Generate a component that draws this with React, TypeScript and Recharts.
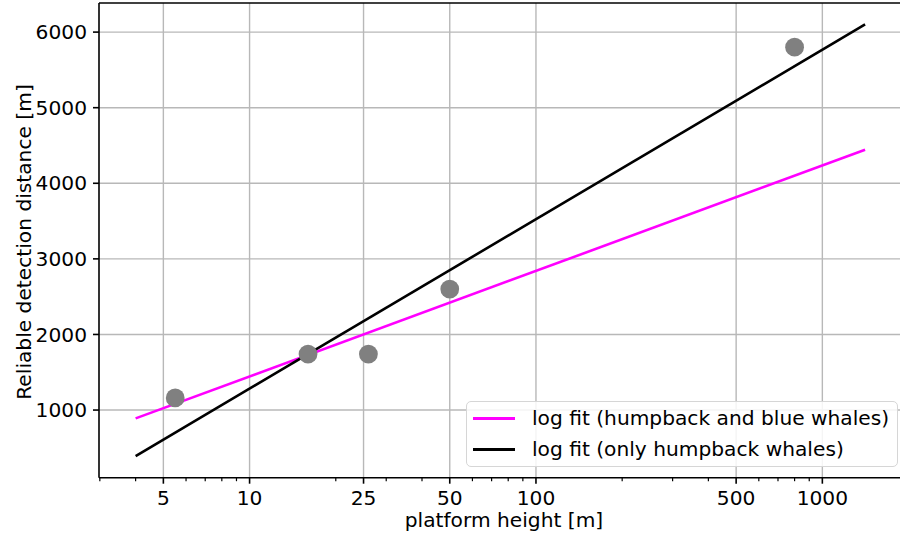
import React from 'react';
import {
  ComposedChart,
  Line,
  Scatter,
  XAxis,
  YAxis,
  CartesianGrid,
  Legend,
  ReferenceLine,
} from 'recharts';

// observed detections
const obsHeight = [5.5, 16, 26, 50, 800];
const obsDistance = [1160, 1740, 1740, 2600, 5800];

// log-fit lines (endpoints of straight lines on a log x axis)
const fitHeights = [4, 1410];
const fitAllWhales = [890, 4444];
const fitHumpbackOnly = [391, 6102];

// axis ticks
const xMajorTicks = [5, 10, 25, 50, 100, 500, 1000];
const xMinorTicks = [3, 4, 6, 7, 8, 9, 20, 30, 40, 60, 70, 80, 90, 200, 300, 400, 600, 700, 800, 900];
const yTicks = [1000, 2000, 3000, 4000, 5000, 6000];

const seriesNames = ['log fit (humpback and blue whales)', 'log fit (only humpback whales)'];
const seriesColors = ['#ff00ff', '#000000'];

const xLabel = 'platform height [m]';
const yLabel = 'Reliable detection distance [m]';

const X_DOMAIN: [number, number] = [2.98, 1867];
const Y_DOMAIN: [number, number] = [105, 6385];

const FONT = '"DejaVu Sans", sans-serif';
const FS = 20.2;

const scatterData = obsHeight.map((h, i) => ({ h, d: obsDistance[i] }));
const allWhalesData = fitHeights.map((h, i) => ({ h, d: fitAllWhales[i] }));
const humpbackData = fitHeights.map((h, i) => ({ h, d: fitHumpbackOnly[i] }));

const XTick = (props: any) => {
  const { x, y, payload } = props;
  const v = payload.value;
  const major = xMajorTicks.includes(v);
  return (
    <g>
      <line
        x1={x}
        x2={x}
        y1={y}
        y2={y + (major ? 6 : 3.5)}
        stroke="#000"
        strokeWidth={major ? 1.6 : 1.2}
      />
      {major && (
        <text x={x} y={y + 27.5} textAnchor="middle" fontSize={FS} fontFamily={FONT} fill="#000">
          {String(v)}
        </text>
      )}
    </g>
  );
};

const Dot = (props: any) => {
  const { cx, cy } = props;
  return <circle cx={cx} cy={cy} r={9.4} fill="#808080" />;
};

const LegendBox = () => (
  <div
    style={{
      position: 'relative',
      width: 432,
      height: 66,
      boxSizing: 'border-box',
      border: '1.5px solid #d6d6d6',
      borderRadius: 5,
      background: 'rgba(255,255,255,0.85)',
      fontFamily: FONT,
      fontSize: FS,
      color: '#000',
    }}
  >
    {seriesNames.map((name, i) => (
      <div key={name} style={{ position: 'absolute', left: 0, top: i === 0 ? 3 : 33.6, height: 27, width: '100%' }}>
        <div
          style={{
            position: 'absolute',
            left: 6,
            top: 12,
            width: 42,
            height: 3,
            background: seriesColors[i],
          }}
        />
        <span style={{ position: 'absolute', left: 65, top: 0, lineHeight: '27px', whiteSpace: 'nowrap' }}>{name}</span>
      </div>
    ))}
  </div>
);

export default function App() {
  return (
    <div style={{ position: 'absolute', left: 0, top: 0, width: 900, height: 535, overflow: 'hidden', background: '#fff' }}>
      <ComposedChart width={900} height={535} margin={{ top: 3, right: 0, bottom: 0, left: 0 }}>
        <CartesianGrid
          stroke="#b8b8b8"
          strokeWidth={1.4}
          x={99}
          width={830}
          verticalValues={xMajorTicks}
          horizontalValues={yTicks}
        />
        <XAxis
          dataKey="h"
          type="number"
          scale="log"
          domain={X_DOMAIN}
          allowDataOverflow
          ticks={[...xMajorTicks, ...xMinorTicks]}
          interval={0}
          tickLine={false}
          tickSize={0}
          tickMargin={0}
          height={57.3}
          axisLine={{ stroke: '#000', strokeWidth: 1.6 }}
          tick={<XTick />}
          label={() => (
            <text x={504} y={527} textAnchor="middle" fontSize={FS} fontFamily={FONT} fill="#000">
              {xLabel}
            </text>
          )}
        />
        <YAxis
          dataKey="d"
          type="number"
          domain={Y_DOMAIN}
          allowDataOverflow
          ticks={yTicks}
          interval={0}
          width={99}
          tickSize={6}
          tickMargin={6}
          tickLine={{ stroke: '#000', strokeWidth: 1.6 }}
          axisLine={{ stroke: '#000', strokeWidth: 1.6 }}
          tick={{ fill: '#000', fontSize: FS, fontFamily: FONT }}
          label={() => (
            <text
              x={31}
              y={242}
              transform="rotate(-90, 31, 242)"
              textAnchor="middle"
              fontSize={FS}
              fontFamily={FONT}
              fill="#000"
            >
              {yLabel}
            </text>
          )}
        />
        <ReferenceLine y={Y_DOMAIN[1]} stroke="#000" strokeWidth={1.6} ifOverflow="visible" />
        <Scatter data={scatterData} dataKey="d" shape={<Dot />} isAnimationActive={false} legendType="none" />
        <Line
          data={allWhalesData}
          dataKey="d"
          stroke={seriesColors[0]}
          strokeWidth={2.6}
          dot={false}
          activeDot={false}
          isAnimationActive={false}
          name={seriesNames[0]}
        />
        <Line
          data={humpbackData}
          dataKey="d"
          stroke={seriesColors[1]}
          strokeWidth={2.6}
          dot={false}
          activeDot={false}
          isAnimationActive={false}
          name={seriesNames[1]}
        />
        <Legend
          layout="horizontal"
          verticalAlign="middle"
          align="center"
          wrapperStyle={{ position: 'absolute', left: 466, top: 401, width: 432, height: 66 }}
          content={() => <LegendBox />}
        />
      </ComposedChart>
    </div>
  );
}
